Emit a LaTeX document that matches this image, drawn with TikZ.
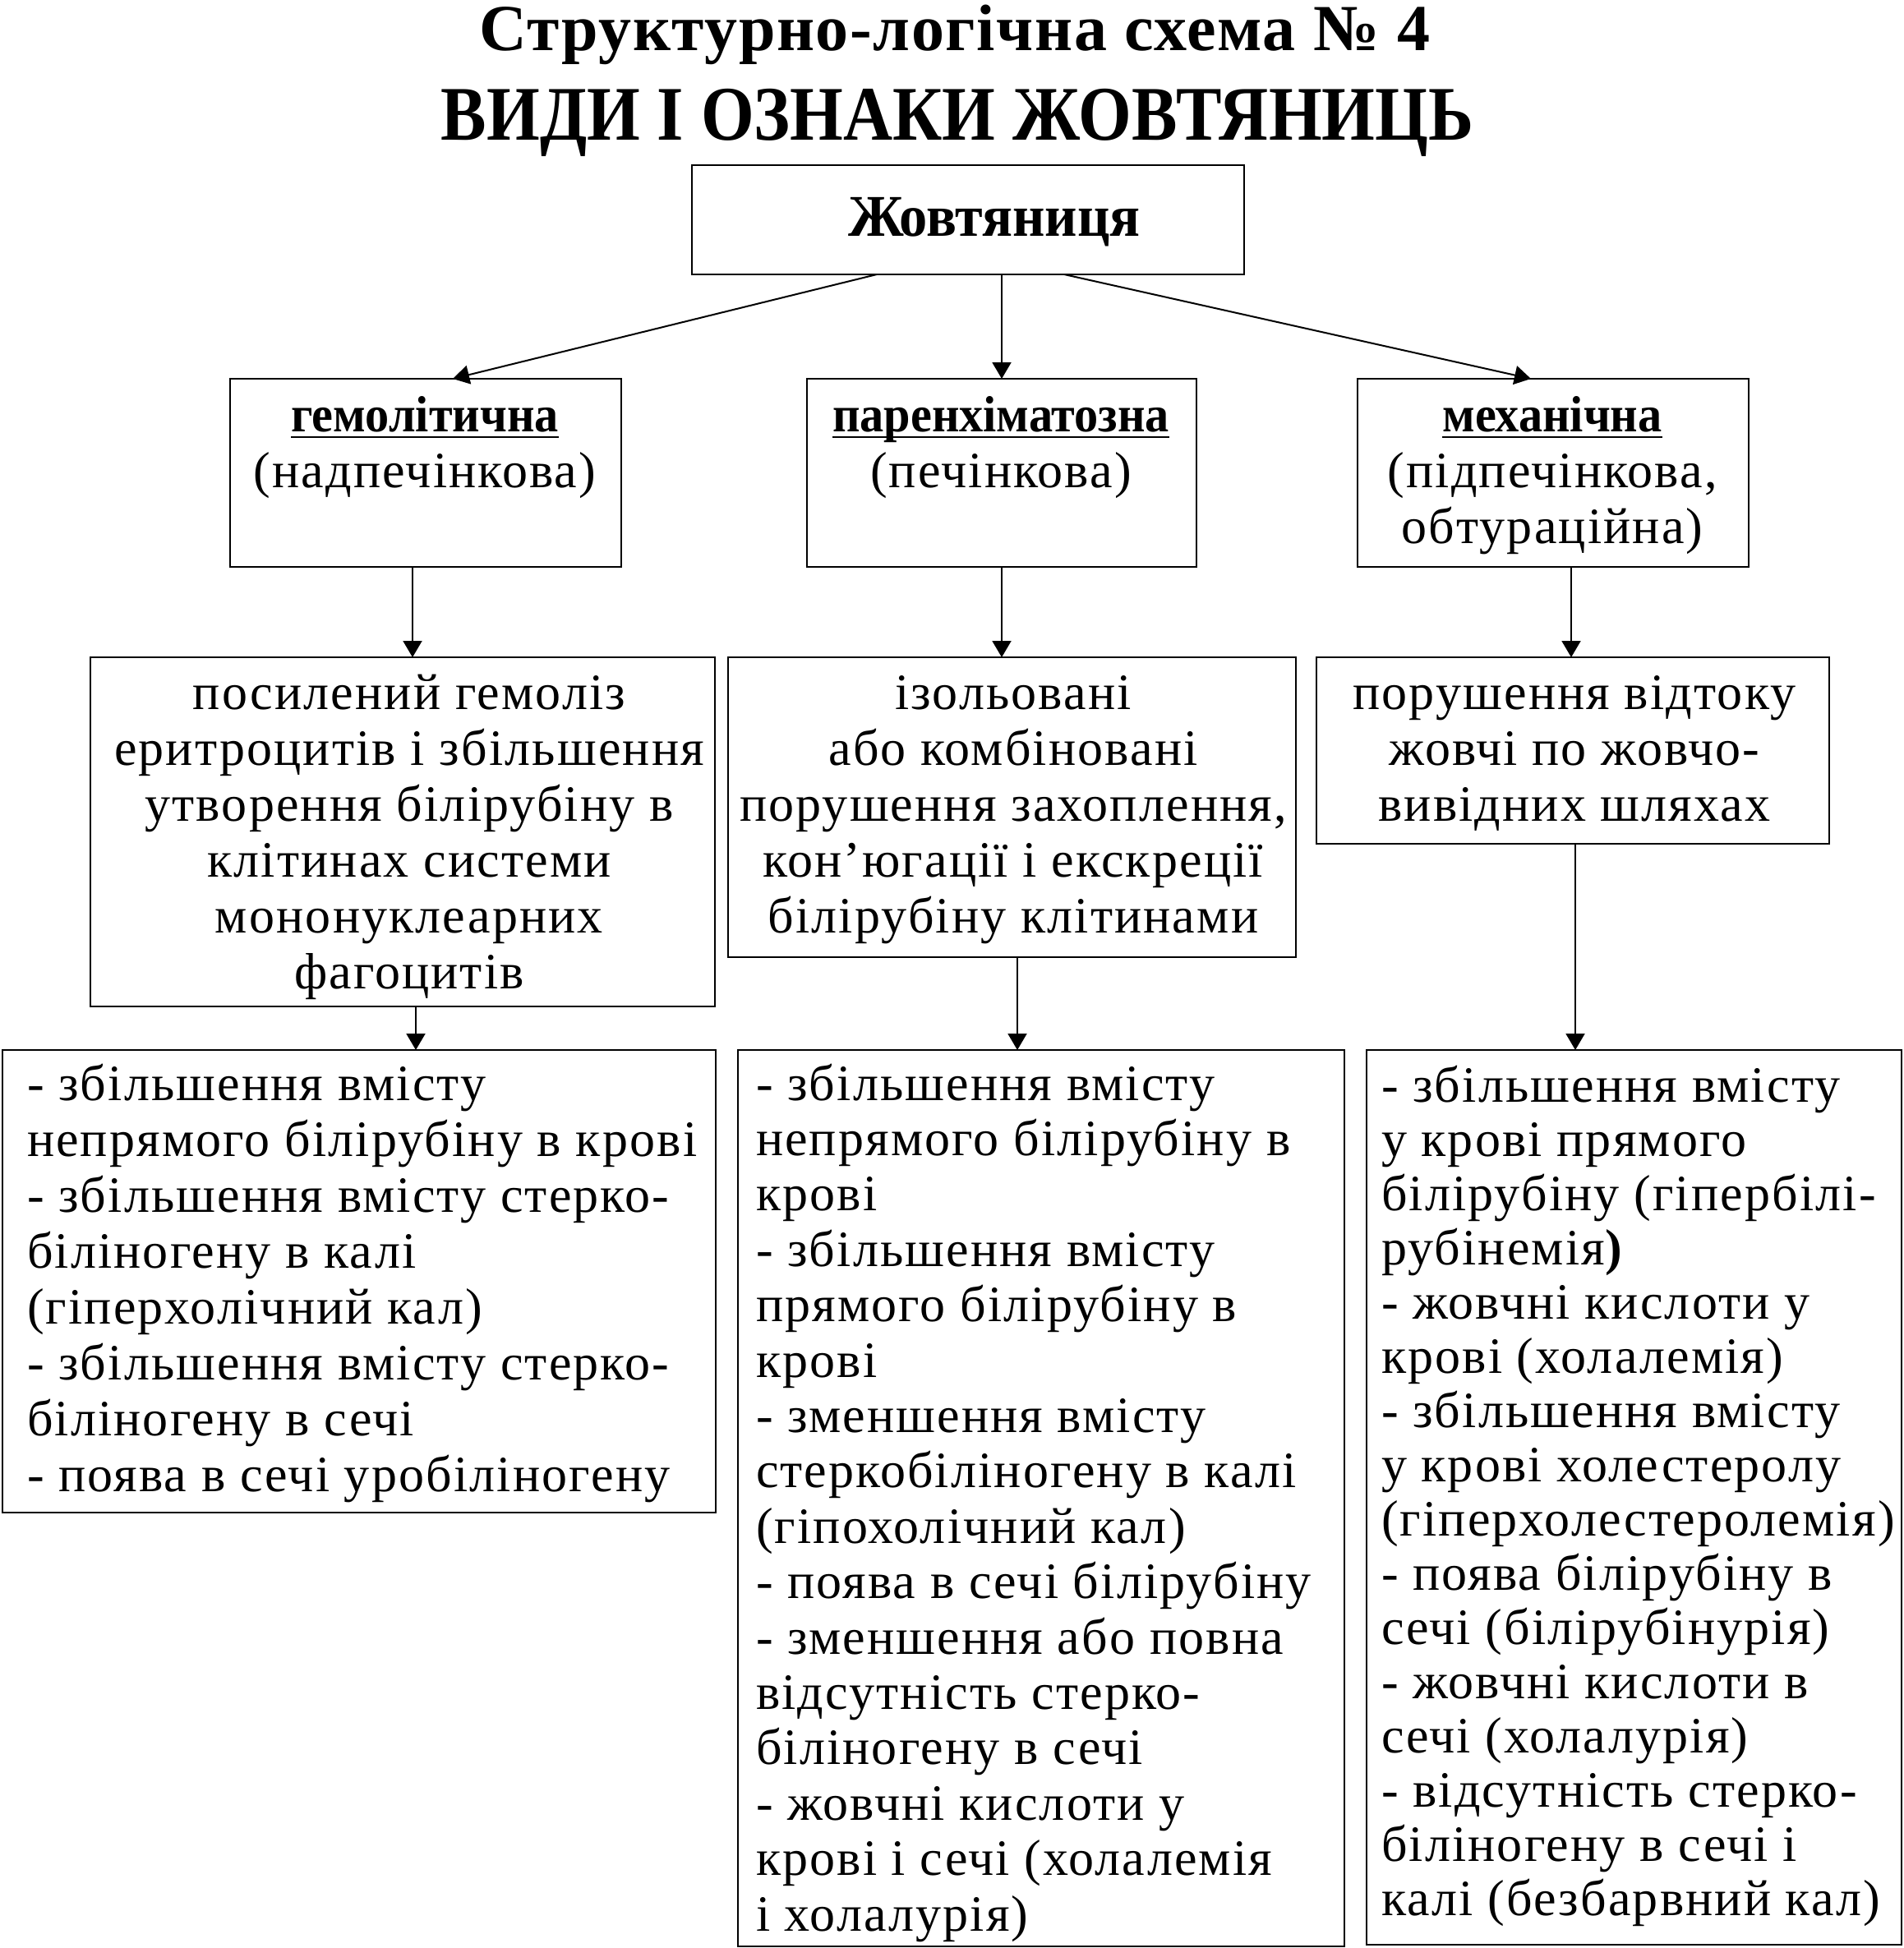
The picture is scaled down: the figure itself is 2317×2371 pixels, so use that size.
\documentclass[tikz,border=0pt]{standalone}
\usepackage{fontspec}
\setmainfont{Liberation Serif}[LetterSpace=3.5]
\newfontfamily\condfont{Liberation Serif}[FakeStretch=0.885]
\newfontfamily\tonefont{Liberation Serif}[LetterSpace=2]
\newfontfamily\zhfont{Liberation Serif}[FakeStretch=0.95]
\newfontfamily\bnarrow{Liberation Serif}[FakeStretch=0.94]
\usetikzlibrary{arrows.meta}
\newcommand\ulb[1]{\setbox0\hbox{#1}\rlap{\rule[-4pt]{\wd0}{1.1pt}}\box0}
\newcommand\fs{\rule{0pt}{24pt}}
\newcommand\hd[1]{{\bnarrow\bfseries\ulb{#1}}}
\begin{document}
\begin{tikzpicture}[x=0.5pt,y=-0.5pt,
 box/.style={draw, line width=1.2pt, inner sep=0pt, outer sep=0pt},
 txt/.style={inner sep=0pt, outer sep=0pt, font=\fontsize{31}{34}\selectfont},
 arr/.style={line width=1pt, -{Triangle[length=10pt,width=11.5pt]}}]
\useasboundingbox (0,0) rectangle (2317,2371);
% titles
\node[inner sep=0pt, anchor=base, font=\fontsize{40}{44}\selectfont\tonefont\bfseries] (title1) at (1162,62) {Структурно-логічна схема № 4};
\node[inner sep=0pt, anchor=base, font=\fontsize{47}{52}\selectfont\condfont\bfseries] (title2) at (1165,170) {ВИДИ І ОЗНАКИ ЖОВТЯНИЦЬ};
% boxes
\node[box, minimum width=336pt, minimum height=66.5pt] (top) at (1178,267.5) {};
\node[box, minimum width=238pt, minimum height=114.5pt] (g2a) at (518,575.5) {};
\node[box, minimum width=237pt, minimum height=114.5pt] (g2b) at (1219,575.5) {};
\node[box, minimum width=238pt, minimum height=114.5pt] (g2c) at (1890,575.5) {};
\node[box, minimum width=380pt, minimum height=212.5pt] (g3a) at (490,1012.5) {};
\node[box, minimum width=345.5pt, minimum height=182.5pt] (g3b) at (1231.5,982.5) {};
\node[box, minimum width=312pt, minimum height=113.5pt] (g3c) at (1914,913.5) {};
\node[box, minimum width=434pt, minimum height=281.5pt] (g4a) at (437,1559.5) {};
\node[box, minimum width=369pt, minimum height=545.5pt] (g4b) at (1267,1823.5) {};
\node[box, minimum width=325.5pt, minimum height=544.5pt] (g4c) at (1988.5,1822.5) {};
% texts
\node[inner sep=0pt, anchor=base, font=\fontsize{36}{40}\selectfont\zhfont\bfseries] (t1) at (1210,287) {Жовтяниця};
\node[txt, anchor=north, align=center] (t2a) at (517,477) {\fs\hd{гемолітична}\\(надпечінкова)};
\node[txt, anchor=north, align=center] (t2b) at (1218,477) {\fs\hd{паренхіматозна}\\(печінкова)};
\node[txt, anchor=north, align=center] (t2c) at (1889,477) {\fs\hd{механічна}\\(підпечінкова,\\обтураційна)};
\node[txt, anchor=north, align=center] (t3a) at (498,815) {\fs посилений гемоліз\\еритроцитів і збільшення\\утворення білірубіну в\\клітинах системи\\мононуклеарних\\фагоцитів};
\node[txt, anchor=north, align=center] (t3b) at (1233,815) {\fs ізольовані\\або комбіновані\\порушення захоплення,\\кон’югації і екскреції\\білірубіну клітинами};
\node[txt, anchor=north, align=center] (t3c) at (1916,815) {\fs порушення відтоку\\жовчі по жовчо-\\вивідних шляхах};
\node[txt, anchor=north west, align=left] (t4a) at (33,1291) {\fs- збільшення вмісту\\непрямого білірубіну в крові\\- збільшення вмісту стерко-\\біліногену в калі\\(гіперхолічний кал)\\- збільшення вмісту стерко-\\біліногену в сечі\\- поява в сечі уробіліногену};
\node[txt, anchor=north west, align=left, font=\fontsize{31}{33.7}\selectfont] (t4b) at (920,1291) {\fs- збільшення вмісту\\непрямого білірубіну в\\крові\\- збільшення вмісту\\прямого білірубіну в\\крові\\- зменшення вмісту\\стеркобіліногену в калі\\(гіпохолічний кал)\\- поява в сечі білірубіну\\- зменшення або повна\\відсутність стерко-\\біліногену в сечі\\- жовчні кислоти у\\крові і сечі (холалемія\\і холалурія)};
\node[txt, anchor=north west, align=left, font=\fontsize{31}{33}\selectfont] (t4c) at (1681,1293) {\fs- збільшення вмісту\\у крові прямого\\білірубіну (гіпербілі-\\рубінемія{\bfseries)}\\- жовчні кислоти у\\крові (холалемія)\\- збільшення вмісту\\у крові холестеролу\\(гіперхолестеролемія)\\- поява білірубіну в\\сечі (білірубінурія)\\- жовчні кислоти в\\сечі (холалурія)\\- відсутність стерко-\\біліногену в сечі і\\калі (безбарвний кал)};
% connectors
\draw[arr] ([xshift=-55.5pt]top.south) -- ([xshift=16.5pt]g2a.north);
\draw[arr] (top.south -| g2b.north) -- (g2b.north);
\draw[arr] ([xshift=58.5pt]top.south) -- ([xshift=-13.5pt]g2c.north);
\coordinate (a1) at ([xshift=-8pt]g2a.south);
\coordinate (a2) at (g2b.south);
\coordinate (a3) at ([xshift=11pt]g2c.south);
\draw[arr] (a1) -- (a1 |- g3a.north);
\draw[arr] (a2) -- (a2 |- g3b.north);
\draw[arr] (a3) -- (a3 |- g3c.north);
\coordinate (b1) at ([xshift=8pt]g3a.south);
\coordinate (b2) at ([xshift=3.25pt]g3b.south);
\coordinate (b3) at ([xshift=1.5pt]g3c.south);
\draw[arr] (b1) -- (b1 |- g4a.north);
\draw[arr] (b2) -- (b2 |- g4b.north);
\draw[arr] (b3) -- (b3 |- g4c.north);
\end{tikzpicture}
\end{document}
